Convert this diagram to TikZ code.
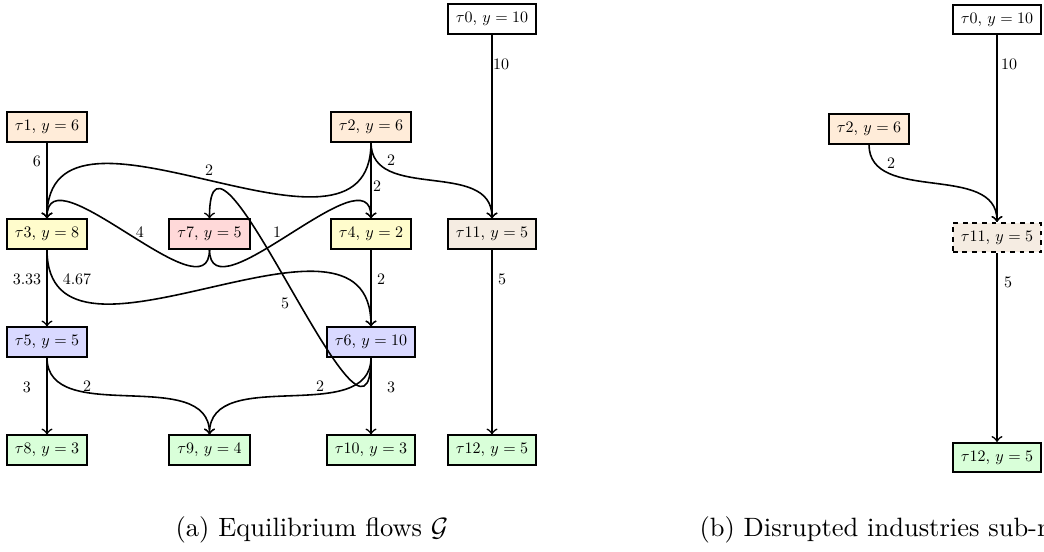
\documentclass[tikz,border=0pt]{standalone}
\usepackage{graphicx}
\usepackage{amsmath}
\newcommand\sm[1]{\scalebox{0.604}{#1}}
\tikzset{
  box/.style={draw, line width=0.75pt, inner xsep=3.0pt, inner ysep=2.95pt},
  lbl/.style={inner sep=0pt},
  edge/.style={->, line width=0.6pt},
  shortdash/.style={dash pattern=on 1.8pt off 1.8pt},
}
\begin{document}
\begin{tikzpicture}[x=0.3774pt, y=-0.3774pt]
\useasboundingbox (0,0) rectangle (1044,552);
\clip (0,0) rectangle (1044,552);
% ---------- (a) ----------
\node[box, fill=white]        (t0)  at (492,19)    {\sm{$\tau0$, $y=10$}};
\node[box, fill=orange!15]    (t1)  at (47,127)    {\sm{$\tau1$, $y=6$}};
\node[box, fill=orange!15]    (t2)  at (371,127)   {\sm{$\tau2$, $y=6$}};
\node[box, fill=yellow!20]    (t3)  at (47,234)    {\sm{$\tau3$, $y=8$}};
\node[box, fill=red!15]       (t7)  at (209.5,234) {\sm{$\tau7$, $y=5$}};
\node[box, fill=yellow!20]    (t4)  at (371,234)   {\sm{$\tau4$, $y=2$}};
\node[box, fill=brown!15]     (t11) at (492,234)   {\sm{$\tau11$, $y=5$}};
\node[box, fill=blue!15]      (t5)  at (47,342)    {\sm{$\tau5$, $y=5$}};
\node[box, fill=blue!15]      (t6)  at (371,342)   {\sm{$\tau6$, $y=10$}};
\node[box, fill=green!15]     (t8)  at (47,450)    {\sm{$\tau8$, $y=3$}};
\node[box, fill=green!15]     (t9)  at (209.5,450) {\sm{$\tau9$, $y=4$}};
\node[box, fill=green!15]     (t10) at (371,450)   {\sm{$\tau10$, $y=3$}};
\node[box, fill=green!15]     (t12) at (492,450)   {\sm{$\tau12$, $y=5$}};

\draw[edge] (t0) -- (t11) node[lbl] (l1) at (501,64) {\sm{10}};
\draw[edge] (t1) -- (t3) node[lbl] (l2) at (37,161) {\sm{6}};
\draw[edge] (t2.south) .. controls +(0,150) and +(0,-150) .. (t3.north) node[lbl] (l3) at (209,170) {\sm{2}};
\draw[edge] (t2) -- (t4) node[lbl] (l4) at (377,186) {\sm{2}};
\draw[edge] (t2.south) .. controls +(0,60) and +(0,-60) .. (t11.north) node[lbl] (l5) at (391,160) {\sm{2}};
\draw[edge] (t7.south) .. controls +(0,70) and +(0,-70) .. (t3.north) node[lbl] (l6) at (140,232) {\sm{4}};
\draw[edge] (t7.south) .. controls +(0,70) and +(0,-70) .. (t4.north) node[lbl] (l7) at (277,232) {\sm{1}};
\draw[edge] (t3) -- (t5) node[lbl] (l8) at (27,279) {\sm{3.33}};
\draw[edge] (t3.south) .. controls +(0,150) and +(0,-150) .. (t6.north) node[lbl] (l9) at (77,279) {\sm{4.67}};
\draw[edge] (t4) -- (t6) node[lbl] (l10) at (381,279) {\sm{2}};
\draw[edge] (t11) -- (t12) node[lbl] (l11) at (502,279) {\sm{5}};
\draw[edge] (t6.south) .. controls +(0,140) and +(0,-140) .. (t7.north) node[lbl] (l12) at (285,303) {\sm{5}};
\draw[edge] (t5) -- (t8) node[lbl] (l13) at (27,387) {\sm{3}};
\draw[edge] (t5.south) .. controls +(0,70) and +(0,-70) .. (t9.north) node[lbl] (l14) at (87,386) {\sm{2}};
\draw[edge] (t6.south) .. controls +(0,70) and +(0,-70) .. (t9.north) node[lbl] (l15) at (320,386) {\sm{2}};
\draw[edge] (t6) -- (t10) node[lbl] (l16) at (391,387) {\sm{3}};

% ---------- (b) ----------
\node[box, fill=white]               (u0)  at (997,19.5)  {\sm{$\tau0$, $y=10$}};
\node[box, fill=orange!15]           (u2)  at (869,129)   {\sm{$\tau2$, $y=6$}};
\node[box, fill=brown!15, shortdash] (u11) at (997,237.5) {\sm{$\tau11$, $y=5$}};
\node[box, fill=green!15]            (u12) at (997,457.5) {\sm{$\tau12$, $y=5$}};
\draw[edge] (u0) -- (u11) node[lbl] (m1) at (1009,64) {\sm{10}};
\draw[edge] (u2.south) .. controls +(0,60) and +(0,-60) .. (u11.north) node[lbl] (m2) at (891,163) {\sm{2}};
\draw[edge] (u11) -- (u12) node[lbl] (m3) at (1008,282) {\sm{5}};

% captions
\node[anchor=base, inner sep=0pt] (capa) at (312,537) {(a) Equilibrium flows $\mathcal{G}$};
\node[anchor=base west, inner sep=0pt] (capb) at (699,537) {(b) Disrupted industries sub-network};
\end{tikzpicture}
\end{document}
